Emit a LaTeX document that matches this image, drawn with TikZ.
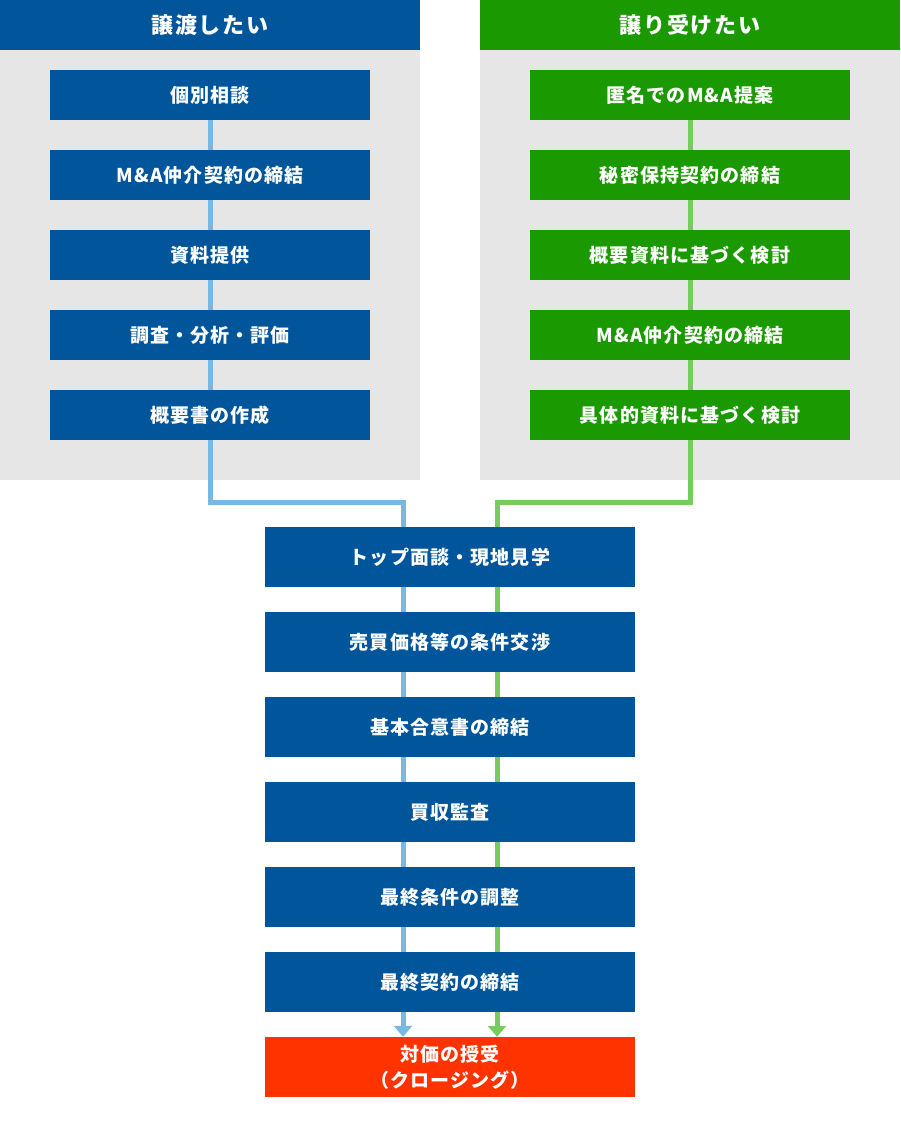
\documentclass[tikz,border=0pt]{standalone}
\usepackage{fontspec}
\setmainfont{Noto Sans CJK JP}
\usetikzlibrary{arrows.meta}

\definecolor{navy}{RGB}{0,85,155}
\definecolor{leaf}{RGB}{26,153,0}
\definecolor{sky}{RGB}{120,184,226}
\definecolor{lime}{RGB}{119,204,94}
\definecolor{panel}{RGB}{230,230,230}
\definecolor{flame}{RGB}{255,51,0}

\begin{document}
\begin{tikzpicture}[
            x=1pt, y=-1pt,
            stepbox/.style={fill=navy, text=white, inner sep=0pt,
                font=\bfseries\fontsize{19}{26}\selectfont\addfontfeature{LetterSpace=6},
                minimum width=320pt, minimum height=50pt},
            headbox/.style={text=white, inner sep=0pt,
                font=\bfseries\fontsize{22}{26}\selectfont\addfontfeature{LetterSpace=8},
                minimum width=420pt, minimum height=50pt},
            wide/.style={stepbox, minimum width=370pt, minimum height=60pt},
            skyline/.style={sky, line width=5pt},
            limeline/.style={lime, line width=5pt},
            tip/.style={-{Triangle[width=18pt,length=11pt]}}
        ]
            \useasboundingbox (0,0) rectangle (900,1130);

            % two panels
            \fill [panel] (0,0) rectangle (420,480);
            \fill [panel] (480,0) rectangle (900,480);
            \node [headbox, fill=navy] (hl) at (210,25) {譲渡したい};
            \node [headbox, fill=leaf] (hr) at (690,25) {譲り受けたい};

            \foreach \t [count=\i] in {個別相談, M\&A仲介契約の締結, 資料提供, 調査・分析・評価, 概要書の作成} {
                \node [stepbox] (l\i) at (210,{15+80*\i}) {\t};
            }
            \foreach \t [count=\i] in {匿名でのM\&A提案, 秘密保持契約の締結, 概要資料に基づく検討, M\&A仲介契約の締結, 具体的資料に基づく検討} {
                \node [stepbox, fill=leaf] (r\i) at (690,{15+80*\i}) {\t};
            }
            \foreach \i [evaluate=\i as \j using int(\i+1)] in {1,...,4} {
                \draw [skyline] (l\i) -- (l\j);
                \draw [limeline] (r\i) -- (r\j);
            }

            % common steps
            \foreach \t [count=\i] in {トップ面談・現地見学, 売買価格等の条件交渉, 基本合意書の締結, 買収監査, 最終条件の調整, 最終契約の締結} {
                \node [wide] (m\i) at (450,{472+85*\i}) {\t};
            }
            \node [wide, fill=flame, align=center] (m7) at (450,1067) {対価の授受\\（クロージング）};

            \coordinate (bl) at (403,502);
            \coordinate (gr) at (497,502);
            \draw [skyline] (l5) |- (bl) -- (bl |- m1.north);
            \draw [limeline] (r5) |- (gr) -- (gr |- m1.north);
            \foreach \i [evaluate=\i as \j using int(\i+1)] in {1,...,5} {
                \draw [skyline] (bl |- m\i.south) -- (bl |- m\j.north);
                \draw [limeline] (gr |- m\i.south) -- (gr |- m\j.north);
            }
            \draw [skyline, tip] (bl |- m6.south) -- (bl |- m7.north);
            \draw [limeline, tip] (gr |- m6.south) -- (gr |- m7.north);
        \end{tikzpicture}
\end{document}
